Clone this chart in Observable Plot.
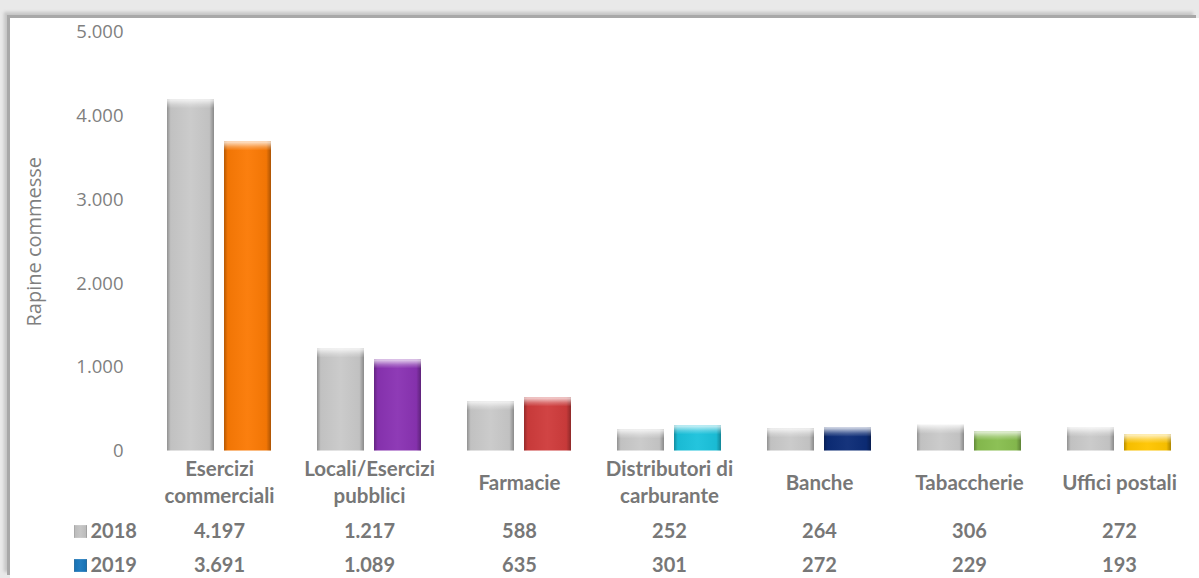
<!DOCTYPE html>
<html>
<head>
<meta charset="utf-8">
<script src="https://cdn.jsdelivr.net/npm/d3@7"></script>
<script src="https://cdn.jsdelivr.net/npm/@observablehq/plot@0.6"></script>
<style>
  html, body { margin: 0; padding: 0; }
  body { width: 1199px; height: 578px; background: #e9e9e9; position: relative; overflow: hidden; }
  #frame { position: absolute; left: 10px; top: 18px; width: 1189px; height: 560px; background: #fff;
           box-shadow: -3px -3px 0 #a8a8a8, -6px -6px 3px #c6c6c6; }
</style>
</head>
<body>
<div id="frame"></div>
<script>
const categories = ["Esercizi commerciali", "Locali/Esercizi pubblici", "Farmacie", "Distributori di carburante", "Banche", "Tabaccherie", "Uffici postali"];
const categoryLabels = ["Esercizi\ncommerciali", "Locali/Esercizi\npubblici", "Farmacie", "Distributori di\ncarburante", "Banche", "Tabaccherie", "Uffici postali"];
const years = ["2018", "2019"];
const values2018 = [4197, 1217, 588, 252, 264, 306, 272];
const values2019 = [3691, 1089, 635, 301, 272, 229, 193];
const yTicks = [0, 1000, 2000, 3000, 4000, 5000];
const yLabel = "Rapine commesse";
const color2018 = "#c9c9c9";
const colors2019 = ["#fb7a05", "#8a33b3", "#cf3c3c", "#1bc2dc", "#0c2c77", "#88be4f", "#ffc500"];
const swatchColors = ["#c4c4c4", "#1a78bd"];

const fmt = d => d3.format(",")(d).replace(/,/g, ".");

const rows = categories.flatMap((c, i) => [
  {cat: c, year: "2018", value: values2018[i], color: color2018},
  {cat: c, year: "2019", value: values2019[i], color: colors2019[i]}
]);
const rows2018 = rows.filter(d => d.year === "2018");
const rows2019 = rows.filter(d => d.year === "2019");
const legendRows = years.map((y, i) => ({cat: categories[0], year: y, color: swatchColors[i], dy: i === 0 ? 80.5 : 114.5}));

const textColor = "#777777";
const tickColor = "#7f7f7f";
const fontBold = "Lato, 'Open Sans', sans-serif";
const boldSize = 20;

const chart = Plot.plot({
  width: 1189,
  height: 560,
  marginTop: 14,
  marginBottom: 127.5,
  marginLeft: 132,
  marginRight: 3,
  style: {fontFamily: "'Open Sans', sans-serif", fontSize: "18px", color: tickColor, background: "transparent", overflow: "visible"},
  fx: {domain: categories, padding: 0, axis: null},
  x: {domain: years, paddingInner: 0.174, paddingOuter: 0.396, axis: null},
  y: {domain: [0, 5000], axis: null},
  color: {type: "identity"},
  marks: [
    Plot.axisY({ticks: yTicks, tickFormat: fmt, tickSize: 0, tickPadding: 21, fontSize: 18.5, label: null}),
    Plot.text([{cat: categories[0], label: yLabel}], {fx: "cat", text: "label", frameAnchor: "left", textAnchor: "middle",
      lineAnchor: "middle", rotate: -90, dx: -110, fontSize: 20, fill: tickColor, fontFamily: "'Open Sans', sans-serif"}),
    Plot.barY(rows, {fx: "cat", x: "year", y: "value", fill: "color"}),
    Plot.barY(rows, {fx: "cat", x: "year", y: "value", fill: "url(#hg)"}),
    Plot.barY(rows, {fx: "cat", x: "year", y1: "value", y2: "value", insetBottom: -9, fill: "url(#vg)"}),
    Plot.text(categories, {fx: d => d, text: (d, i) => categoryLabels[i], frameAnchor: "bottom", lineAnchor: "middle",
      dy: 30, lineHeight: 1.33, fontSize: 20.5, fontWeight: "bold", fontFamily: fontBold, fill: textColor}),
    Plot.text(rows2018, {fx: "cat", text: d => fmt(d.value), frameAnchor: "bottom", lineAnchor: "middle",
      dy: 81, fontSize: boldSize, fontWeight: "bold", fontFamily: fontBold, fill: textColor}),
    Plot.text(rows2019, {fx: "cat", text: d => fmt(d.value), frameAnchor: "bottom", lineAnchor: "middle",
      dy: 115, fontSize: boldSize, fontWeight: "bold", fontFamily: fontBold, fill: textColor}),
    ...legendRows.map(r => Plot.text([r], {fx: "cat", text: "year", frameAnchor: "bottom-left", lineAnchor: "middle",
      textAnchor: "start", dx: -54, dy: r.dy + 0.5, fontSize: boldSize, fontWeight: "bold", fontFamily: fontBold, fill: textColor})),
    ...legendRows.map(r => Plot.dot([r], {fx: "cat", frameAnchor: "bottom-left", symbol: "square", r: 7.2,
      dx: -64, dy: r.dy, fill: "color"})),
    ...legendRows.map(r => Plot.dot([r], {fx: "cat", frameAnchor: "bottom-left", symbol: "square", r: 7.2,
      dx: -64, dy: r.dy, fill: "url(#hg)"}))
  ]
});

const ns = "http://www.w3.org/2000/svg";
const defs = document.createElementNS(ns, "defs");
defs.innerHTML = `
  <linearGradient id="hg" x1="0" y1="0" x2="1" y2="0">
    <stop offset="0" stop-color="#000" stop-opacity="0.28"/>
    <stop offset="0.08" stop-color="#000" stop-opacity="0.04"/>
    <stop offset="0.5" stop-color="#fff" stop-opacity="0.04"/>
    <stop offset="0.9" stop-color="#000" stop-opacity="0.04"/>
    <stop offset="1" stop-color="#000" stop-opacity="0.32"/>
  </linearGradient>
  <linearGradient id="vg" x1="0" y1="0" x2="0" y2="1">
    <stop offset="0" stop-color="#fff" stop-opacity="0.8"/>
    <stop offset="0.6" stop-color="#fff" stop-opacity="0.25"/>
    <stop offset="1" stop-color="#fff" stop-opacity="0"/>
  </linearGradient>`;
chart.insertBefore(defs, chart.firstChild);
document.getElementById("frame").appendChild(chart);
</script>
</body>
</html>
